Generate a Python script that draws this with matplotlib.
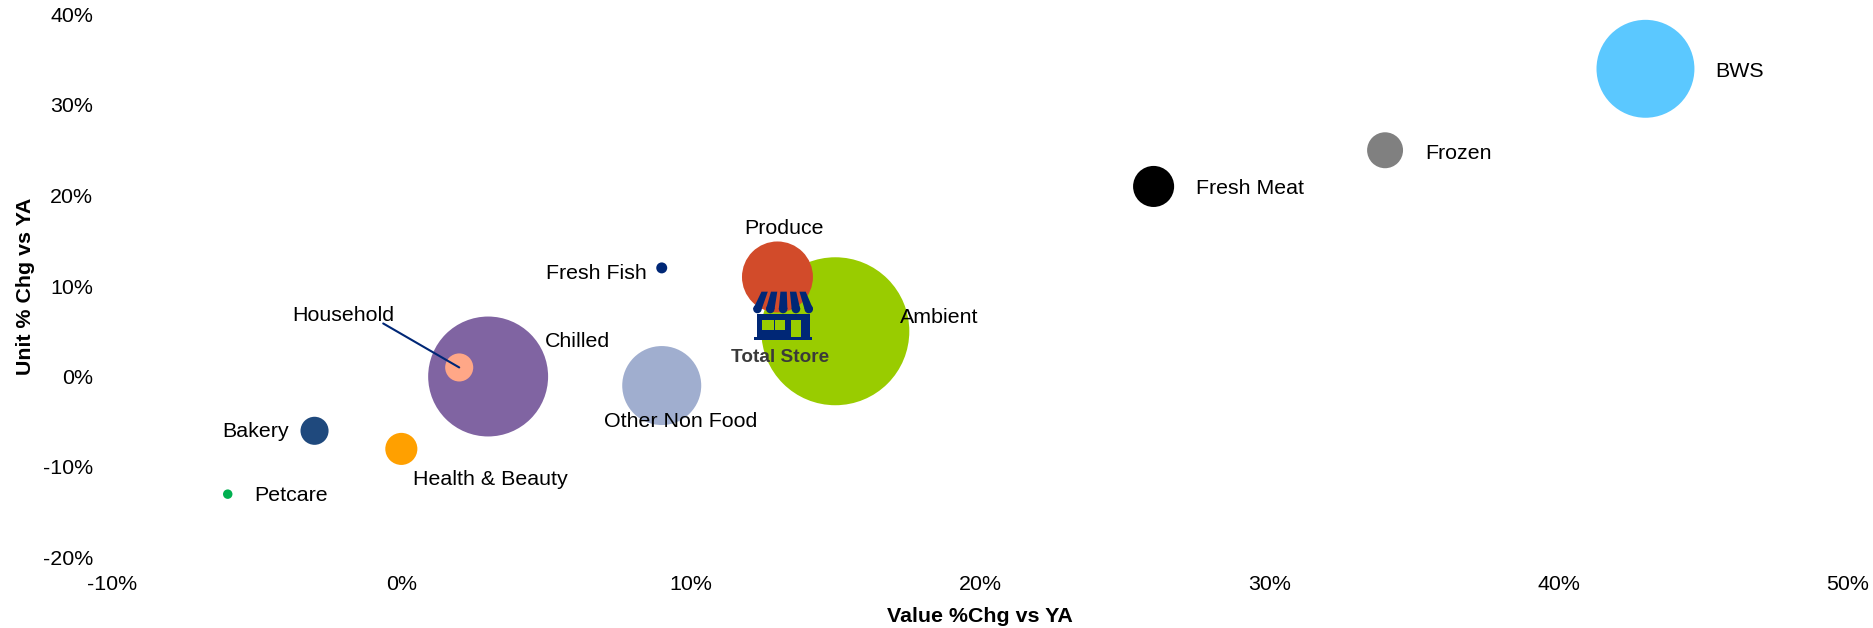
import matplotlib
matplotlib.use('Agg')
import matplotlib.pyplot as plt
from matplotlib.patches import Polygon, Rectangle, Circle
from matplotlib.ticker import FuncFormatter

plt.rcParams['font.family'] = ['Liberation Sans', 'DejaVu Sans']
plt.rcParams['axes.unicode_minus'] = False

categories = ['Ambient', 'BWS', 'Chilled', 'Other Non Food', 'Produce', 'Fresh Meat', 'Frozen',
              'Health & Beauty', 'Household', 'Bakery', 'Fresh Fish', 'Petcare']
value_chg = [15, 43, 3, 9, 13, 26, 34, 0, 2, -3, 9, -6]
unit_chg = [5, 34, 0, -1, 11, 21, 25, -8, 1, -6, 12, -13]
bubble_size = [100, 43.8, 65.7, 28.5, 23, 7.7, 5.9, 4.7, 3.6, 3.6, 0.55, 0.41]
colours = ['#99CC00', '#5BC8FF', '#8064A2', '#A0AECF', '#D24B2A', '#000000', '#808080',
           '#FFA000', '#FFA787', '#1F497D', '#002776', '#00B050']

W, H = 1873, 628
TOP, BOTTOM = 14.5, 557.5
FONT = 15.4
NAVY = '#002776'
GREEN = '#99CC00'

# label offset from the bubble centre, in pixels
label_offsets = {
    'Ambient': (65, 14), 'BWS': (70, -3), 'Chilled': (57, 35), 'Other Non Food': (-58, -36),
    'Produce': (-33, 48), 'Fresh Meat': (42, -2), 'Frozen': (40, -3.5), 'Health & Beauty': (12, -31),
    'Household': (-167, 52), 'Bakery': (-92, -1), 'Fresh Fish': (-116, -6), 'Petcare': (27, -1),
}


def draw_store(ax):
    # shop icon, drawn in its own little box
    icon = ax.inset_axes([12.16, 4.0, 2.07, 5.52], transform=ax.transData, zorder=5)
    icon.set_xlim(160, 340)
    icon.set_ylim(390, 240)
    icon.axis('off')
    # five navy stripes with narrower gaps between them
    stripe, gap = 2.0, 1.0
    total = 5 * stripe + 4 * gap
    for i in range(5):
        a = i * (stripe + gap) / total
        b = a + stripe / total
        tl, tr = 185 + 133 * a, 185 + 133 * b
        bl, br = 160 + 180 * a, 160 + 180 * b
        icon.add_patch(Polygon([(tl, 244), (tr, 244), (br, 296), (bl, 296)], color=NAVY, lw=0))
        icon.add_patch(Circle(((bl + br) / 2, 296), (br - bl) / 2, color=NAVY, lw=0))
    icon.add_patch(Rectangle((172, 310), 158, 72, color=NAVY, lw=0))
    icon.add_patch(Rectangle((163, 380), 175, 8, color=NAVY, lw=0))
    icon.add_patch(Rectangle((188, 330), 34, 30, color=GREEN, lw=0))
    icon.add_patch(Rectangle((225, 330), 32, 30, color=GREEN, lw=0))
    icon.add_patch(Rectangle((274, 328), 30, 52, color=GREEN, lw=0))


fig = plt.figure(figsize=(W / 100, H / 100), dpi=100)
ax = fig.add_axes([112 / W, 1 - BOTTOM / H, (1848 - 112) / W, (BOTTOM - TOP) / H])

ax.scatter(value_chg, unit_chg, s=[v * 113.5 for v in bubble_size], c=colours,
           linewidths=0, clip_on=False, zorder=2)

ax.set_xlim(-10, 50)
ax.set_ylim(-20, 40)
ax.set_xticks(range(-10, 51, 10))
ax.set_yticks(range(-20, 41, 10))
pct = FuncFormatter(lambda v, pos: f'{v:.0f}%')
ax.xaxis.set_major_formatter(pct)
ax.yaxis.set_major_formatter(pct)
ax.tick_params(length=0, labelsize=FONT, colors='black')
ax.tick_params(axis='x', pad=12.5)
ax.tick_params(axis='y', pad=13.5)
for s in ax.spines.values():
    s.set_visible(False)
ax.patch.set_alpha(0)

for name, x, y in zip(categories, value_chg, unit_chg):
    ax.annotate(name, (x, y), xytext=label_offsets[name], textcoords='offset pixels',
                ha='left', va='center', fontsize=FONT, color='black', zorder=6)

# leader line for Household
hx, hy = value_chg[8], unit_chg[8]
ax.annotate('', (hx, hy), xytext=(-76, 44), textcoords='offset pixels',
            arrowprops=dict(arrowstyle='-', color=NAVY, lw=1.5, shrinkA=0, shrinkB=0), zorder=4)

draw_store(ax)
ax.text(13.1, 2.15, 'Total Store', ha='center', va='center', fontsize=13.7,
        fontweight='bold', color='#3A3A3A', zorder=6)

ax.set_xlabel('Value %Chg vs YA', fontsize=FONT, fontweight='bold', va='center')
ax.xaxis.set_label_coords(0.5, -(616.5 - BOTTOM) / (BOTTOM - TOP))
ax.set_ylabel('Unit % Chg vs YA', fontsize=FONT, fontweight='bold', va='center')
ax.yaxis.set_label_coords(-(112 - 25) / 1736, 0.5)

fig.savefig('out.png', dpi=100)
